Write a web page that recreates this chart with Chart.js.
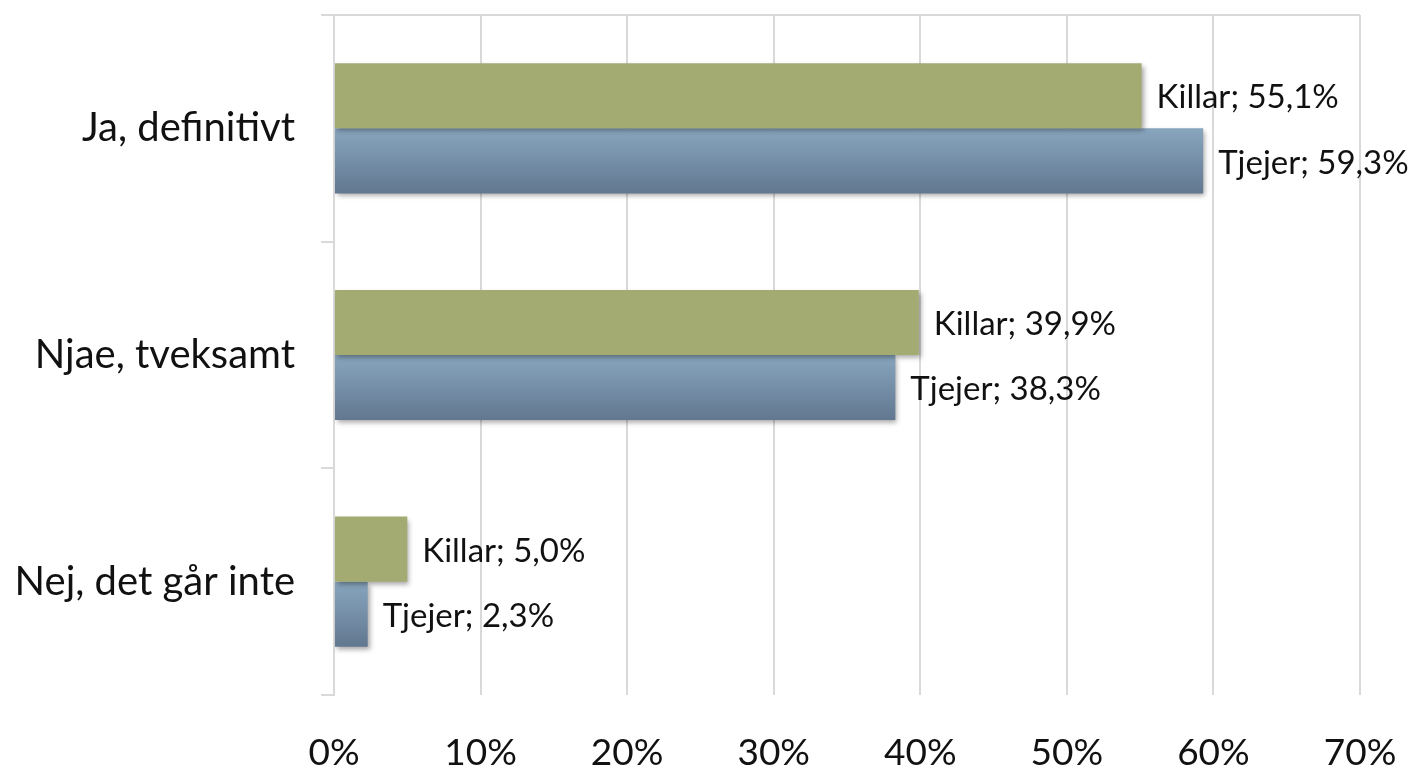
<!DOCTYPE html>
<html>
<head>
<meta charset="utf-8">
<script src="https://cdn.jsdelivr.net/npm/chart.js@4/dist/chart.umd.min.js"></script>
<style>
  html, body { margin: 0; padding: 0; background: #fff; }
  #wrap { width: 1423px; height: 768px; }
</style>
</head>
<body>
<div id="wrap"><canvas id="chart"></canvas></div>
<script>
// Chart data
const categories = ['Ja, definitivt', 'Njae, tveksamt', 'Nej, det går inte'];
const seriesNames = ['Killar', 'Tjejer'];
const killarValues = [55.1, 39.9, 5.0];
const tjejerValues = [59.3, 38.3, 2.3];
const xTicks = [0, 10, 20, 30, 40, 50, 60, 70];

const FONT = 'Lato, "Open Sans", sans-serif';
const GRID = '#d9d9d9';

function fmt(v) {
    return v.toFixed(1).replace('.', ',') + '%';
}

// Vertical gradient for the blue bars + soft shadow + value labels
const barStyle = {
    id: 'barStyle',
    beforeDatasetDraw(chart, args) {
        const ctx = chart.ctx;
        ctx.save();
        ctx.shadowColor = 'rgba(0,0,0,0.35)';
        ctx.shadowBlur = 5;
        ctx.shadowOffsetX = 2;
        ctx.shadowOffsetY = 3;
        if (args.index === 1) {
            args.meta.data.forEach(bar => {
                const top = bar.y - bar.height / 2;
                const g = ctx.createLinearGradient(0, top, 0, top + bar.height);
                g.addColorStop(0, '#88a6be');
                g.addColorStop(1, '#627790');
                // give each bar its own options object so gradients don't get shared
                bar.options = Object.assign({}, bar.options, { backgroundColor: g });
            });
        }
    },
    afterDatasetDraw(chart) {
        chart.ctx.restore();
    },
    afterDatasetsDraw(chart) {
        const ctx = chart.ctx;
        ctx.save();
        ctx.font = '33px ' + FONT;
        ctx.fillStyle = '#111';
        ctx.textBaseline = 'middle';
        ctx.textAlign = 'left';
        chart.data.datasets.forEach((ds, i) => {
            chart.getDatasetMeta(i).data.forEach((bar, j) => {
                ctx.fillText(ds.label + '; ' + fmt(ds.data[j]), bar.x + 15, bar.y + 2);
            });
        });
        ctx.restore();
    }
};

new Chart(document.getElementById('chart'), {
    type: 'bar',
    data: {
        labels: categories,
        datasets: [{
            label: seriesNames[0],
            data: killarValues,
            backgroundColor: '#a3ab72',
            barPercentage: 1,
            categoryPercentage: 0.574
        }, {
            label: seriesNames[1],
            data: tjejerValues,
            backgroundColor: '#7890a8',
            barPercentage: 1,
            categoryPercentage: 0.574
        }]
    },
    options: {
        indexAxis: 'y',
        responsive: true,
        maintainAspectRatio: false,
        animation: false,
        layout: { padding: { top: 15, right: 63, left: 0, bottom: 0 } },
        plugins: {
            legend: { display: false },
            tooltip: { enabled: false }
        },
        scales: {
            x: {
                min: 0,
                max: 70,
                afterBuildTicks: scale => {
                    scale.ticks = xTicks.map(v => ({ value: v }));
                },
                afterFit: scale => {
                    scale.height = 73;
                    scale.paddingLeft = 0;
                    scale.paddingRight = 0;
                },
                grid: {
                    color: GRID,
                    lineWidth: 2,
                    tickLength: 0
                },
                border: { display: false },
                ticks: {
                    padding: 36,
                    color: '#111',
                    font: { size: 37, family: FONT },
                    callback: v => v + '%'
                }
            },
            y: {
                afterFit: scale => {
                    scale.width = 334;
                    scale.paddingTop = 0;
                    scale.paddingBottom = 0;
                },
                grid: {
                    offset: true,
                    lineWidth: 2,
                    tickLength: 13,
                    color: c => (c.index === 0 || c.index === categories.length) ? GRID : 'rgba(0,0,0,0)',
                    tickColor: GRID
                },
                border: { color: GRID, width: 2 },
                ticks: {
                    padding: 26,
                    color: '#111',
                    font: { size: 40, family: FONT }
                }
            }
        }
    },
    plugins: [barStyle]
});
</script>
</body>
</html>
